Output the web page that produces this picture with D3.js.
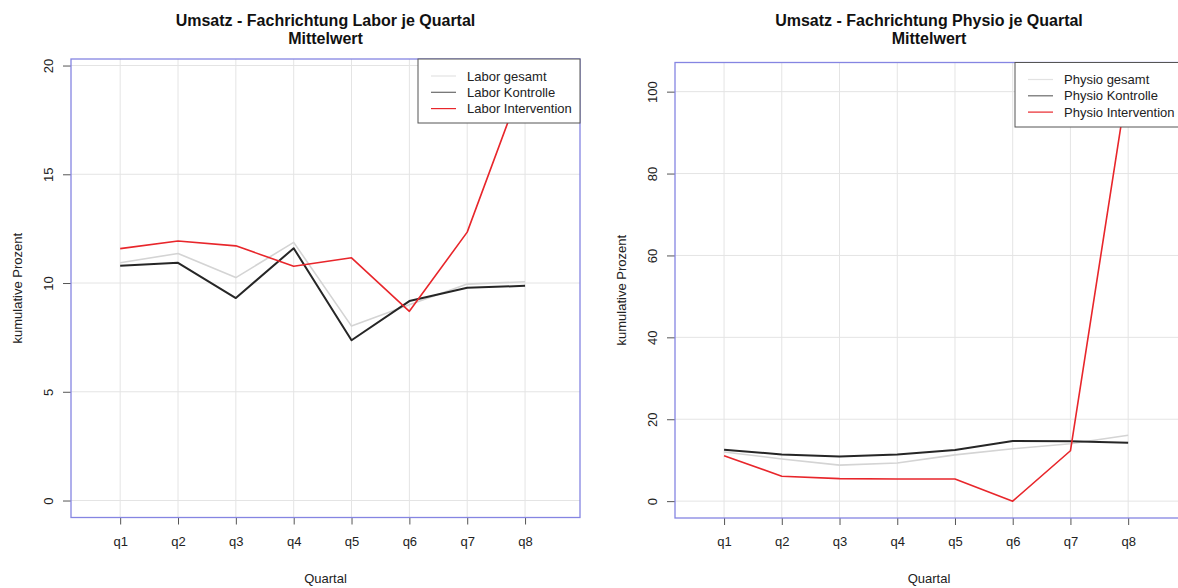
<!DOCTYPE html>
<html>
<head>
<meta charset="utf-8">
<script src="https://cdn.jsdelivr.net/npm/d3@7"></script>
<style>
  html, body { margin: 0; padding: 0; background: #fff; }
  svg { display: block; font-family: "Liberation Sans", Arial, sans-serif; }
</style>
</head>
<body>
<svg id="chart" width="1178" height="588"></svg>
<script>
// Quarterly mean revenue, cumulative percent
const quarters = ["q1", "q2", "q3", "q4", "q5", "q6", "q7", "q8"];

const laborGesamt       = [10.93, 11.36, 10.25, 11.87, 8.02, 9.00, 9.95, 10.06];
const laborKontrolle    = [10.80, 10.93, 9.31, 11.60, 7.37, 9.17, 9.78, 9.87];
const laborIntervention = [11.58, 11.93, 11.71, 10.77, 11.16, 8.70, 12.34, 19.52];

const physioGesamt       = [12.0, 10.3, 8.8, 9.3, 11.3, 12.8, 14.0, 16.1];
const physioKontrolle    = [12.55, 11.4, 10.9, 11.4, 12.5, 14.7, 14.65, 14.25];
const physioIntervention = [11.1, 6.07, 5.5, 5.4, 5.4, 0.0, 12.3, 103.0];

const laborTicks  = [0, 5, 10, 15, 20];
const physioTicks = [0, 20, 40, 60, 80, 100];

const laborLabels  = ["Labor gesamt", "Labor Kontrolle", "Labor Intervention"];
const physioLabels = ["Physio gesamt", "Physio Kontrolle", "Physio Intervention"];

const titleLine1 = ["Umsatz - Fachrichtung Labor je Quartal", "Umsatz - Fachrichtung Physio je Quartal"];
const titleLine2 = "Mittelwert";
const xTitle = "Quartal";
const yTitle = "kumulative Prozent";

// series styling: gesamt, Kontrolle, Intervention
const seriesStyle = [
  { color: "#d4d4d4", width: 1.6, legendColor: "#e2e2e2" },
  { color: "#262626", width: 2.0, legendColor: "#6a6a6a" },
  { color: "#e8262b", width: 1.6, legendColor: "#e8262b" }
];

const svg = d3.select("#chart");

function panel(opts) {
  const { box, series, ticks, labels, title, legendBox, id } = opts;
  const g = svg.append("g");

  // y range like R: data range padded by 4 % each side
  const ymax = d3.max(series.flat());
  const ymin = 0;
  const pad = (ymax - ymin) * 0.04;
  const y = d3.scaleLinear().domain([ymin - pad, ymax + pad]).range([box.bottom, box.top]);
  const x = d3.scaleLinear().domain([0.15, 8.95]).range([box.left, box.right]);
  const xi = quarters.map((q, i) => i + 1);

  // grid
  g.append("g").selectAll("line.h").data(ticks).join("line")
    .attr("x1", box.left).attr("x2", box.right)
    .attr("y1", d => y(d)).attr("y2", d => y(d))
    .attr("stroke", "#e4e4e4").attr("stroke-width", 1);
  g.append("g").selectAll("line.v").data(xi).join("line")
    .attr("x1", d => x(d)).attr("x2", d => x(d))
    .attr("y1", box.top).attr("y2", box.bottom)
    .attr("stroke", "#e4e4e4").attr("stroke-width", 1);

  // clip for series
  svg.append("clipPath").attr("id", "clip-" + id)
    .append("rect").attr("x", box.left).attr("y", box.top)
    .attr("width", box.right - box.left).attr("height", box.bottom - box.top);

  const line = d3.line().x((d, i) => x(i + 1)).y(d => y(d));
  const lines = g.append("g").attr("clip-path", `url(#clip-${id})`);
  series.forEach((s, k) => {
    lines.append("path").datum(s)
      .attr("d", line)
      .attr("fill", "none")
      .attr("stroke", seriesStyle[k].color)
      .attr("stroke-width", seriesStyle[k].width)
      .attr("stroke-linejoin", "round");
  });

  // axes
  const yAxis = d3.axisLeft(y).tickValues(ticks).tickSize(8).tickFormat(d3.format("d"));
  const ya = g.append("g").attr("transform", `translate(${box.left},0)`).call(yAxis);
  ya.select(".domain").remove();
  ya.selectAll(".tick line").attr("stroke", "#555");
  // rotated tick labels sit to the left of the ticks
  ya.selectAll(".tick text")
    .attr("font-size", 13).attr("fill", "#222")
    .attr("x", null).attr("y", 0)
    .attr("text-anchor", "middle")
    .attr("transform", "translate(-23,0) rotate(-90)")
    .attr("dy", "0.35em");

  const xAxis = d3.axisBottom(x).tickValues(xi).tickSize(7).tickFormat((d) => quarters[d - 1]);
  const xa = g.append("g").attr("transform", `translate(0,${box.bottom})`).call(xAxis);
  xa.select(".domain").remove();
  xa.selectAll(".tick line").attr("stroke", "#555");
  xa.selectAll(".tick text").attr("font-size", 13).attr("fill", "#222").attr("y", 24).attr("dy", "0.32em");

  // plot frame
  g.append("rect")
    .attr("x", box.left).attr("y", box.top)
    .attr("width", box.right - box.left).attr("height", box.bottom - box.top)
    .attr("fill", "none").attr("stroke", "#8585e2").attr("stroke-width", 1.3);

  // titles
  const cx = (box.left + box.right) / 2;
  g.append("text").attr("x", cx).attr("y", 26).attr("text-anchor", "middle")
    .attr("font-size", 16).attr("font-weight", "bold").attr("fill", "#111").text(title);
  g.append("text").attr("x", cx).attr("y", 44).attr("text-anchor", "middle")
    .attr("font-size", 16).attr("font-weight", "bold").attr("fill", "#111").text(titleLine2);
  g.append("text").attr("x", cx).attr("y", 583).attr("text-anchor", "middle")
    .attr("font-size", 13).attr("fill", "#222").text(xTitle);
  g.append("text")
    .attr("transform", `translate(${box.left - 49},${(box.top + box.bottom) / 2}) rotate(-90)`)
    .attr("text-anchor", "middle").attr("font-size", 13).attr("fill", "#222").text(yTitle);

  // legend (top right of plot area)
  const lg = g.append("g");
  lg.append("rect")
    .attr("x", legendBox.left).attr("y", legendBox.top)
    .attr("width", legendBox.right - legendBox.left).attr("height", legendBox.bottom - legendBox.top)
    .attr("fill", "#fff").attr("stroke", "#555").attr("stroke-width", 1);
  labels.forEach((lab, k) => {
    const yy = legendBox.top + 17 + k * 16.3;
    lg.append("line")
      .attr("x1", legendBox.left + 13).attr("x2", legendBox.left + 38)
      .attr("y1", yy).attr("y2", yy)
      .attr("stroke", seriesStyle[k].legendColor).attr("stroke-width", 1.2);
    lg.append("text")
      .attr("x", legendBox.left + 49).attr("y", yy).attr("dy", "0.35em")
      .attr("font-size", 13).attr("fill", "#222").text(lab);
  });
}

panel({
  id: "labor",
  box: { left: 71, right: 580, top: 59, bottom: 517.5 },
  series: [laborGesamt, laborKontrolle, laborIntervention],
  ticks: laborTicks,
  labels: laborLabels,
  title: titleLine1[0],
  legendBox: { left: 418, right: 580, top: 59, bottom: 123 }
});

panel({
  id: "physio",
  box: { left: 675, right: 1183, top: 62.5, bottom: 518 },
  series: [physioGesamt, physioKontrolle, physioIntervention],
  ticks: physioTicks,
  labels: physioLabels,
  title: titleLine1[1],
  legendBox: { left: 1015, right: 1183, top: 62.5, bottom: 127 }
});
</script>
</body>
</html>
